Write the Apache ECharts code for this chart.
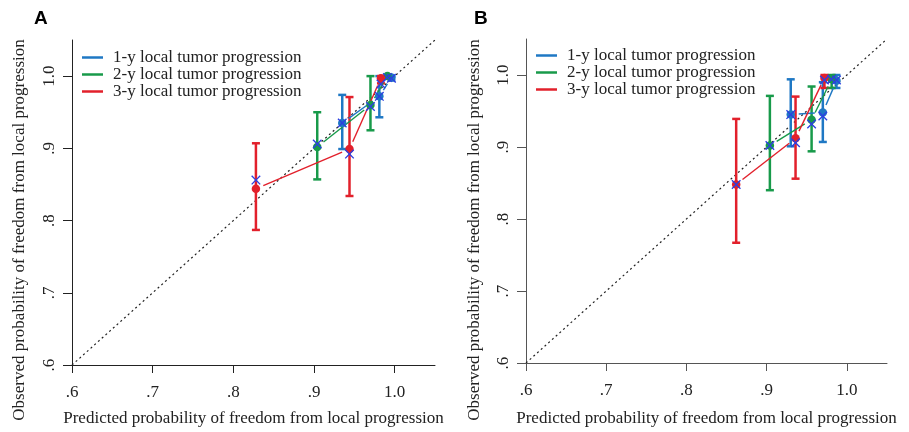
<!DOCTYPE html>
<html>
<head>
<meta charset="utf-8">
<script src="https://cdn.jsdelivr.net/npm/echarts@6/dist/echarts.min.js"></script>
<style>
  html, body { margin: 0; padding: 0; background: #fff; }
  #main { width: 909px; height: 432px; }
</style>
</head>
<body>
<div id="main"></div>
<script>
// legend names and colours
const names = ['1-y local tumor progression', '2-y local tumor progression', '3-y local tumor progression'];
const colors = ['#1f78c4', '#189a4a', '#e2202b'];
const crossColor = '#2d3fe0';
const ticks = [0.6, 0.7, 0.8, 0.9, 1.0];
const diagonal = [[0.6, 0.6], [1.05, 1.05]];

// panel A: predicted, observed (dot), corrected (x), CI low / high
const predA1 = [0.935, 0.981, 0.996];
const obsA1 = [0.935, 0.972, 0.998];
const crossA1 = [0.935, 0.972, 0.997];
const loA1 = [0.899, 0.943, 0.994];
const hiA1 = [0.974, 1.0, 1.0];

const predA2 = [0.904, 0.970, 0.991];
const obsA2 = [0.902, 0.960, 1.0];
const crossA2 = [0.906, 0.958, 0.998];
const loA2 = [0.857, 0.925, 0.997];
const hiA2 = [0.950, 1.0, 1.0];

const predA3 = [0.828, 0.944, 0.983];
const obsA3 = [0.844, 0.899, 0.997];
const crossA3 = [0.856, 0.892, 0.989];
const loA3 = [0.787, 0.834, 0.990];
const hiA3 = [0.907, 0.971, 1.0];

// panel B
const predB1 = [0.930, 0.970, 0.987];
const obsB1 = [0.945, 0.948, 0.992];
const crossB1 = [0.945, 0.943, 0.993];
const loB1 = [0.901, 0.907, 0.982];
const hiB1 = [0.994, 0.990, 1.0];

const predB2 = [0.904, 0.956, 0.981];
const obsB2 = [0.902, 0.938, 0.994];
const crossB2 = [0.902, 0.932, 0.994];
const loB2 = [0.840, 0.894, 0.982];
const hiB2 = [0.971, 0.984, 1.0];

const predB3 = [0.862, 0.936, 0.972];
const obsB3 = [0.848, 0.912, 0.996];
const crossB3 = [0.848, 0.906, 0.993];
const loB3 = [0.767, 0.856, 0.982];
const hiB3 = [0.939, 0.970, 1.0];

const panels = [
  [[predA1, obsA1, crossA1, loA1, hiA1], [predA2, obsA2, crossA2, loA2, hiA2], [predA3, obsA3, crossA3, loA3, hiA3]],
  [[predB1, obsB1, crossB1, loB1, hiB1], [predB2, obsB2, crossB2, loB2, hiB2], [predB3, obsB3, crossB3, loB3, hiB3]]
];

const serif = 'Liberation Serif';
const txt = '#222';
const crossPath = 'path://M1,0L5,4L9,0L10,1L6,5L10,9L9,10L5,6L1,10L0,9L4,5L0,1Z';
const fmt = v => (Math.abs(v - 1) < 1e-6 ? '1.0' : '.' + Math.round(v * 10));

function ciItem (params, api) {
  const x = api.value(0);
  const top = api.coord([x, api.value(2)]);
  const bot = api.coord([x, api.value(1)]);
  const st = { stroke: api.visual('color'), lineWidth: 2.5 };
  const w = 4;
  return {
    type: 'group',
    children: [
      { type: 'line', shape: { x1: top[0], y1: top[1], x2: bot[0], y2: bot[1] }, style: st },
      { type: 'line', shape: { x1: top[0] - w, y1: top[1], x2: top[0] + w, y2: top[1] }, style: st },
      { type: 'line', shape: { x1: bot[0] - w, y1: bot[1], x2: bot[0] + w, y2: bot[1] }, style: st }
    ]
  };
}

// connecting segment with a small gap at each end, like the original
function segItem (params, api) {
  const a = api.coord([api.value(0), api.value(1)]);
  const b = api.coord([api.value(2), api.value(3)]);
  const dx = b[0] - a[0], dy = b[1] - a[1];
  const len = Math.sqrt(dx * dx + dy * dy);
  const gap = Math.min(8, len / 3);
  const ux = dx / len, uy = dy / len;
  return {
    type: 'line',
    shape: { x1: a[0] + ux * gap, y1: a[1] + uy * gap, x2: b[0] - ux * gap, y2: b[1] - uy * gap },
    style: { stroke: api.visual('color'), lineWidth: 1.4 }
  };
}

const grids = [
  { left: 72, top: 40, width: 363, height: 332 },
  { left: 526, top: 39, width: 361, height: 330 }
];
const axisColors = ['#222', '#555'];

const xAxes = [], yAxes = [], series = [], legends = [];
grids.forEach((g, p) => {
  xAxes.push({
    type: 'value', gridIndex: p, min: 0.6, max: 1.05,
    name: 'Predicted probability of freedom from local progression',
    nameLocation: 'middle', nameGap: p === 0 ? 45 : 47,
    nameTextStyle: { fontFamily: serif, fontSize: 17, color: txt },
    axisLine: { lineStyle: { color: axisColors[p], width: 1 } },
    axisTick: { length: 8, customValues: ticks, lineStyle: { color: axisColors[p] } },
    axisLabel: { fontFamily: serif, fontSize: 17, color: txt, margin: 19, customValues: ticks, formatter: fmt },
    splitLine: { show: false }
  });
  yAxes.push({
    type: 'value', gridIndex: p, min: 0.6, max: 1.05,
    axisLine: { show: true, lineStyle: { color: axisColors[p], width: 1 } },
    axisTick: { show: true, length: 9, customValues: ticks, lineStyle: { color: axisColors[p] } },
    axisLabel: { fontFamily: serif, fontSize: 17, color: txt, margin: 14, rotate: 90, customValues: ticks, formatter: fmt },
    splitLine: { show: false }
  });
  series.push({
    type: 'line', xAxisIndex: p, yAxisIndex: p, data: diagonal, symbol: 'none', silent: true,
    lineStyle: { color: '#222', width: 1.2, type: [2, 3] }, z: 1
  });
  panels[p].forEach((s, k) => {
    const [pred, obs, cross, lo, hi] = s;
    series.push({
      type: 'custom', xAxisIndex: p, yAxisIndex: p, renderItem: ciItem, z: 2,
      itemStyle: { color: colors[k] },
      encode: { x: 0, y: [1, 2] },
      data: pred.map((x, i) => [x, lo[i], hi[i]])
    });
    const segs = [];
    for (let i = 0; i < pred.length - 1; i++) segs.push([pred[i], obs[i], pred[i + 1], obs[i + 1]]);
    series.push({
      type: 'custom', name: names[k], xAxisIndex: p, yAxisIndex: p, renderItem: segItem, z: 3,
      itemStyle: { color: colors[k] },
      encode: { x: [0, 2], y: [1, 3] },
      data: segs
    });
    series.push({
      type: 'scatter', xAxisIndex: p, yAxisIndex: p, symbol: 'circle', symbolSize: 8.5, z: 4,
      itemStyle: { color: colors[k], opacity: 1 },
      data: pred.map((x, i) => [x, obs[i]])
    });
    series.push({
      type: 'scatter', xAxisIndex: p, yAxisIndex: p, symbol: crossPath, symbolSize: 9.5, z: 5,
      itemStyle: { color: crossColor, opacity: 1 },
      data: pred.map((x, i) => [x, cross[i]])
    });
  });
  legends.push({
    orient: 'vertical', left: p === 0 ? 82 : 536, top: p === 0 ? 49 : 47,
    padding: 0, itemGap: 0, itemWidth: 21, itemHeight: 2.5, icon: 'rect',
    selectedMode: false,
    textStyle: { fontFamily: serif, fontSize: 17, color: txt, lineHeight: 16.5, padding: [0, 0, 0, 5] },
    data: names.map((n, k) => ({ name: n, itemStyle: { color: colors[k] } }))
  });
});

const chart = echarts.init(document.getElementById('main'));
chart.setOption({
  animation: false,
  backgroundColor: '#fff',
  grid: grids,
  xAxis: xAxes,
  yAxis: yAxes,
  legend: legends,
  series: series,
  graphic: [
    { type: 'text', x: 34, y: 9, style: { text: 'A', fill: '#000', font: 'bold 19px "Liberation Sans"' } },
    { type: 'text', x: 474, y: 9, style: { text: 'B', fill: '#000', font: 'bold 19px "Liberation Sans"' } },
    { type: 'text', x: 20, y: 230, rotation: Math.PI / 2,
      style: { text: 'Observed probability of freedom from local progression', fill: txt,
        font: '17px "Liberation Serif"', align: 'center', verticalAlign: 'middle' } },
    { type: 'text', x: 475, y: 230, rotation: Math.PI / 2,
      style: { text: 'Observed probability of freedom from local progression', fill: txt,
        font: '17px "Liberation Serif"', align: 'center', verticalAlign: 'middle' } }
  ]
});
</script>
</body>
</html>
